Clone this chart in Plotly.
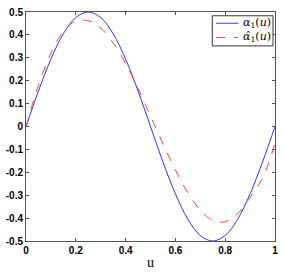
import plotly.graph_objects as go

u = [0.0, 0.05, 0.1, 0.15, 0.2, 0.25, 0.3, 0.35, 0.4, 0.45, 0.5,
     0.55, 0.6, 0.65, 0.7, 0.75, 0.8, 0.85, 0.9, 0.95, 1.0]
alpha = [0.0, 0.155, 0.294, 0.405, 0.476, 0.5, 0.476, 0.405, 0.294, 0.155, 0.0,
         -0.155, -0.294, -0.405, -0.476, -0.5, -0.476, -0.405, -0.294, -0.155, 0.0]
alpha_hat = [0.0, 0.18, 0.32, 0.415, 0.46, 0.462, 0.43, 0.365, 0.275, 0.165, 0.045,
             -0.075, -0.19, -0.29, -0.365, -0.41, -0.416, -0.38, -0.31, -0.225, -0.075]
x_ticks = [0, 0.2, 0.4, 0.6, 0.8, 1]
x_labels = ["0", "0.2", "0.4", "0.6", "0.8", "1"]
y_ticks = [-0.5, -0.4, -0.3, -0.2, -0.1, 0, 0.1, 0.2, 0.3, 0.4, 0.5]
y_labels = ["-0.5", "-0.4", "-0.3", "-0.2", "-0.1", "0", "0.1", "0.2", "0.3", "0.4", "0.5"]
names = ["<i>α</i><sub>1</sub>(<i>u</i>)", "<i>α̂</i><sub>1</sub>(<i>u</i>)"]
colors = ["#3333ff", "#ff4444"]
dashes = ["solid", "dash"]

fig = go.Figure()
for y, nm, c, d in zip([alpha, alpha_hat], names, colors, dashes):
    fig.add_trace(go.Scatter(x=u, y=y, mode="lines", name=nm, showlegend=False,
                             line=dict(color=c, width=1, dash=d, shape="spline")))

# manual legend (paper coordinates of the plot area)
fig.add_shape(type="rect", xref="paper", yref="paper", x0=0.748, x1=0.992, y0=0.852, y1=0.9835,
              line=dict(color="#333333", width=1), fillcolor="white", layer="above")
for i, (nm, c, d) in enumerate(zip(names, colors, dashes)):
    yy = 0.951 - i * 0.062
    fig.add_shape(type="line", xref="paper", yref="paper", x0=0.7636, x1=0.8527, y0=yy, y1=yy,
                  line=dict(color=c, width=1, dash=d), layer="above")
    fig.add_annotation(xref="paper", yref="paper", x=0.862, y=yy, text=nm, showarrow=False,
                       xanchor="left", yanchor="middle",
                       font=dict(family="DejaVu Serif", size=11, color="black"))

axis_common = dict(showgrid=False, zeroline=False, showline=True, linecolor="#555555", linewidth=1,
                   mirror="ticks", ticks="inside", ticklen=3, tickcolor="#555555",
                   tickfont=dict(family="Liberation Sans", size=10, color="black", weight="bold"))
fig.update_xaxes(range=[0, 1], tickvals=x_ticks, ticktext=x_labels,
                 title=dict(text="u", font=dict(family="Liberation Serif", size=14, color="black"), standoff=2),
                 **axis_common)
fig.update_yaxes(range=[-0.5, 0.5], tickvals=y_ticks, ticktext=y_labels, **axis_common)

fig.update_layout(width=284, height=274, margin=dict(l=20, r=6, t=7, b=24),
                  plot_bgcolor="white", paper_bgcolor="white", showlegend=False)
fig.write_html("out.html")
